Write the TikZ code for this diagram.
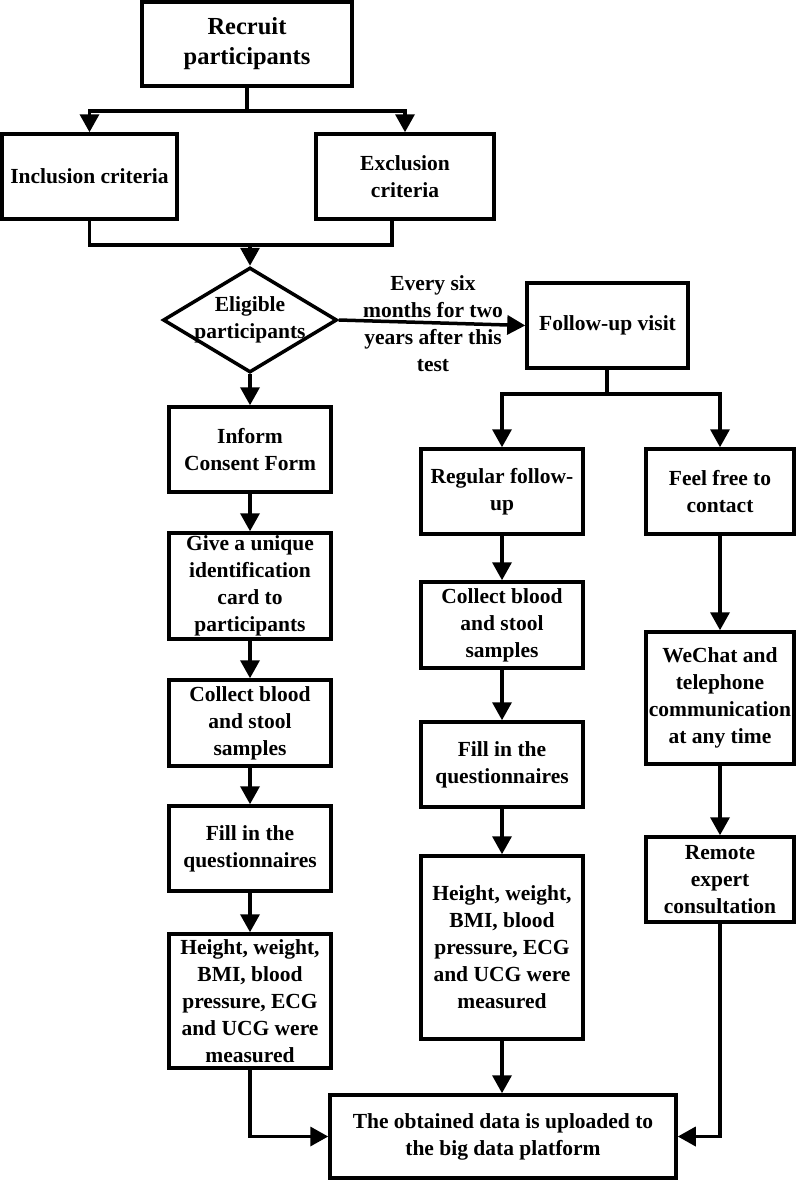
\documentclass[tikz,border=0pt]{standalone}
\usepackage{fontspec}
\setmainfont{Liberation Serif}
\usetikzlibrary{arrows.meta,shapes.geometric}
\tikzset{
  box/.style={draw, line width=3.5pt, rectangle, inner sep=0pt, align=center,
    font=\bfseries\fontsize{21.5}{27}\selectfont},
  txt/.style={inner sep=0pt, align=center, font=\bfseries\fontsize{21.5}{27}\selectfont},
  conn/.style={line width=3.5pt},
  arr/.style={line width=3.5pt, -{Triangle[length=18pt,width=19pt]}},
}
\begin{document}
\begin{tikzpicture}[x=1pt,y=-1pt]
\useasboundingbox (0,0) rectangle (797,1181);
% boxes
\node[box, minimum width=210pt, minimum height=84pt, font=\bfseries\fontsize{24.5}{30}\selectfont] (recruit) at (247,44) {Recruit\\participants};
\node[box, minimum width=175pt, minimum height=85pt] (incl) at (89.5,176.5) {Inclusion criteria};
\node[box, minimum width=178pt, minimum height=85pt] (excl) at (405,176.5) {Exclusion\\criteria};
\node[diamond, draw, line width=3.5pt, inner sep=0pt, minimum width=174pt, minimum height=105pt] (elig) at (250,320) {};
\node[txt] (eligtext) at (elig.center) {Eligible\\participants};
\node[txt] (lab) at (433,324) {Every six\\months for two\\years after this\\test};
\node[box, minimum width=161pt, minimum height=85pt] (follow) at (607.5,325.5) {Follow-up visit};
% left column
\node[box, minimum width=162pt, minimum height=85pt] (inform) at (250,449.5) {Inform\\Consent Form};
\node[box, minimum width=162pt, minimum height=106pt] (give) at (250,586) {Give a unique\\identification\\card to\\participants};
\node[box, minimum width=162pt, minimum height=86pt] (collL) at (250,723) {Collect blood\\and stool\\samples};
\node[box, minimum width=162pt, minimum height=85pt] (fillL) at (250,848.5) {Fill in the\\questionnaires};
\node[box, minimum width=162pt, minimum height=134pt] (heightL) at (250,1001) {Height, weight,\\BMI, blood\\pressure, ECG\\and UCG were\\measured};
% middle column
\node[box, minimum width=162pt, minimum height=85pt] (regular) at (502,491.5) {Regular follow-\\up};
\node[box, minimum width=162pt, minimum height=86pt] (collM) at (502,625) {Collect blood\\and stool\\samples};
\node[box, minimum width=162pt, minimum height=85pt] (fillM) at (502,764.5) {Fill in the\\questionnaires};
\node[box, minimum width=162pt, minimum height=183pt] (heightM) at (502,947.5) {Height, weight,\\BMI, blood\\pressure, ECG\\and UCG were\\measured};
% right column
\node[box, minimum width=148pt, minimum height=85pt] (feel) at (720,491.5) {Feel free to\\contact};
\node[box, minimum width=148pt, minimum height=132pt] (wechat) at (720,698) {WeChat and\\telephone\\communication\\at any time};
\node[box, minimum width=148pt, minimum height=85pt] (remote) at (720,879.5) {Remote\\expert\\consultation};
% final
\node[box, minimum width=346pt, minimum height=83pt] (final) at (503,1136.5) {The obtained data is uploaded to\\the big data platform};
% connectors
\coordinate (b1) at (247,111);
\draw[conn] (recruit.south) -- (b1);
\draw[arr] (b1) -| (incl.north);
\draw[arr] (b1) -| (excl.north);
\coordinate (m1) at (250,245);
\coordinate (exclfoot) at (392,219);
\draw[conn] (incl.south) |- (m1) -| (exclfoot);
\draw[arr] (m1) -- (elig.north);
\draw[arr] (elig.east) -- (follow.west);
\draw[arr] (elig.south) -- (inform.north);
\draw[arr] (inform.south) -- (give.north);
\draw[arr] (give.south) -- (collL.north);
\draw[arr] (collL.south) -- (fillL.north);
\draw[arr] (fillL.south) -- (heightL.north);
\coordinate (b2) at (607,394);
\draw[conn] (follow.south -| b2) -- (b2);
\draw[arr] (b2) -| (regular.north);
\draw[arr] (b2) -| (feel.north);
\draw[arr] (regular.south) -- (collM.north);
\draw[arr] (collM.south) -- (fillM.north);
\draw[arr] (fillM.south) -- (heightM.north);
\draw[arr] (heightM.south) -- (heightM.south |- final.north);
\draw[arr] (feel.south) -- (wechat.north);
\draw[arr] (wechat.south) -- (remote.north);
\draw[arr] (heightL.south) |- (final.west);
\draw[arr] (remote.south) |- (final.east);
\end{tikzpicture}
\end{document}
